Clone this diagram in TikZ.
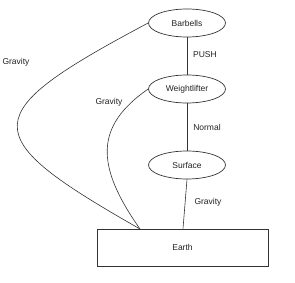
\documentclass[tikz,border=0pt]{standalone}
\usepackage{fontspec}
\setmainfont{Liberation Sans}
\usepackage{xcolor}
\usetikzlibrary{shapes.geometric}
\definecolor{lineGray}{HTML}{333333}
\definecolor{textGray}{HTML}{222222}

\begin{document}
\begin{tikzpicture}[x=1pt, y=-1pt,
    body/.style={ellipse, draw=lineGray, line width=0.7pt, minimum width=77pt,
      minimum height=28pt, inner sep=0pt, font=\fontsize{8.5}{10}\selectfont, text=textGray},
    ground/.style={rectangle, draw=lineGray, line width=0.7pt, minimum width=171pt,
      minimum height=37pt, inner sep=0pt, font=\fontsize{8.5}{10}\selectfont, text=textGray},
    force/.style={font=\fontsize{8.5}{10}\selectfont, text=textGray},
    link/.style={draw=lineGray, line width=0.6pt}]
    \useasboundingbox (0,0) rectangle (295,283);
    % Bodies
    \node[body] (barbells) at (187, 23) {Barbells};
    \node[body] (lifter) at (187, 89) {Weightlifter};
    \node[body] (surface) at (187, 165) {Surface};
    \node[ground] (earth) at (182.5, 247.5) {Earth};
    \coordinate (earthhit) at (140, 229);
    % Contact forces
    \draw[link] (barbells) -- (lifter);
    \draw[link] (lifter) -- (surface);
    \draw[link] (surface.south) -- (earth.north -| 183,0);
    % Gravity on the bodies
    \draw[link] (barbells.west) .. controls (-25,115) and (-25,135) .. (earthhit);
    \draw[link] (lifter.west) .. controls (95,126) and (95,165) .. (earthhit);
    % Labels
    \node[force] (push) at (205, 55) {PUSH};
    \node[force] (normal) at (207, 127) {Normal};
    \node[force] (gsurf) at (208, 202) {Gravity};
    \node[force] (gbar) at (16, 62) {Gravity};
    \node[force] (glift) at (109, 102) {Gravity};
\end{tikzpicture}
\end{document}
